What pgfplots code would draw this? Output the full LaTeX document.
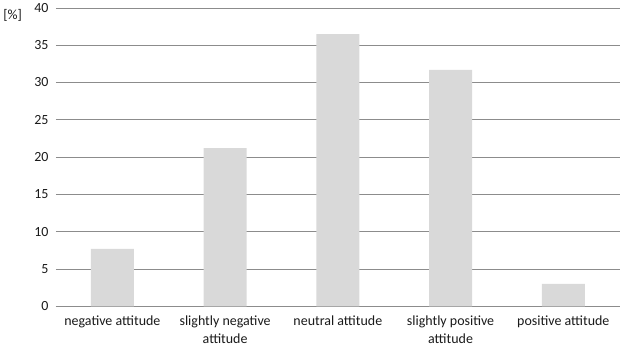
\documentclass[border=0pt]{standalone}
\usepackage{fontspec}
\setmainfont{Carlito}
\usepackage{pgfplots}
\pgfplotsset{compat=1.18}
\definecolor{barc}{HTML}{D9D9D9}
\definecolor{gridc}{HTML}{8C8C8C}
\definecolor{txt}{HTML}{1A1A1A}
\begin{document}
\begin{tikzpicture}
\begin{axis}[
  scale only axis,
  width=563bp, height=298bp,
  xmin=-0.5, xmax=4.5,
  ymin=0, ymax=40,
  ytick={0,5,...,40},
  xtick={0,1,2,3,4},
  xticklabels={negative attitude,{slightly negative\\attitude},neutral attitude,{slightly positive\\attitude},positive attitude},
  xticklabel style={align=center, text=txt, font=\fontsize{14}{18}\selectfont},
  yticklabel style={text=txt, font=\fontsize{14}{16}\selectfont},
  /pgf/number format/assume math mode=true,
  major x tick style={draw=none},
  major y tick style={draw=none},
  extra x ticks={-0.5,0.5,1.5,2.5,3.5,4.5},
  extra x tick labels={},
  extra x tick style={tick style={draw=gridc, thin}, major tick length=4bp, tick align=outside, grid=none},
  ymajorgrids,
  grid style={gridc, line width=0.8pt},
  axis y line*=left,
  y axis line style={draw=none},
  axis x line*=bottom,
  x axis line style={gridc, line width=0.8pt},
  every outer x axis line/.append style={-},
  xticklabel shift=6bp,
  yticklabel shift=4bp,
  clip=false,
]
\addplot[ybar, bar width=43bp, fill=barc, draw=none] coordinates {(0,7.7) (1,21.2) (2,36.5) (3,31.7) (4,3.0)};
\node[text=txt, font=\fontsize{14}{16}\selectfont] at (rel axis cs:-0.077,0.975) {[\%]};
\end{axis}
\end{tikzpicture}
\end{document}
